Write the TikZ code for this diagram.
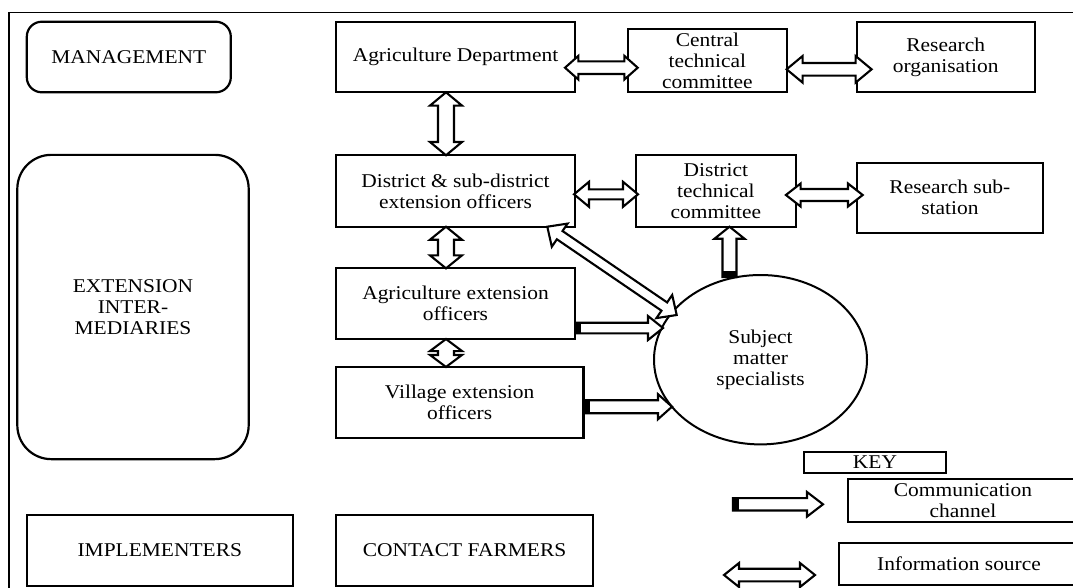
\documentclass[tikz,border=0pt]{standalone}
\usepackage{fontspec}
\setmainfont{Liberation Serif}[FakeStretch=1.1]
\usetikzlibrary{calc,shapes.geometric}

% Hollow block arrow with a head at both ends.
% #1 start, #2 end, #3 shaft half width, #4 head half width, #5 head length
\newcommand{\infoarrow}[5]{%
  \draw[arrowline] (#1)
    -- ($(#1)!#5!(#2)!#4!90:(#2)$) -- ($(#1)!#5!(#2)!#3!90:(#2)$)
    -- ($(#2)!#5!(#1)!#3!-90:(#1)$) -- ($(#2)!#5!(#1)!#4!-90:(#1)$)
    -- (#2)
    -- ($(#2)!#5!(#1)!#4!90:(#1)$) -- ($(#2)!#5!(#1)!#3!90:(#1)$)
    -- ($(#1)!#5!(#2)!#3!-90:(#2)$) -- ($(#1)!#5!(#2)!#4!-90:(#2)$)
    -- cycle;}

% Hollow block arrow with one head and a solid black tail.
\newcommand{\commarrow}[5]{%
  \draw[arrowline] ($(#1)!#3!90:(#2)$)
    -- ($(#2)!#5!(#1)!#3!-90:(#1)$) -- ($(#2)!#5!(#1)!#4!-90:(#1)$)
    -- (#2)
    -- ($(#2)!#5!(#1)!#4!90:(#1)$) -- ($(#2)!#5!(#1)!#3!90:(#1)$)
    -- ($(#1)!#3!-90:(#2)$) -- cycle;
  \fill ($(#1)!#3!90:(#2)$) -- ($(#1)!6pt!(#2)!#3!90:(#2)$)
    -- ($(#1)!6pt!(#2)!#3!-90:(#2)$) -- ($(#1)!#3!-90:(#2)$) -- cycle;}

\begin{document}
\begin{tikzpicture}[x=1pt, y=-1pt,
  every node/.style={font=\fontsize{19.5}{21}\selectfont},
  blk/.style={draw, line width=2.2pt, align=center, inner sep=0pt, outer sep=0pt},
  rblk/.style={blk, rounded corners=#1},
  oval/.style={draw, ellipse, line width=2pt, align=center, inner sep=0pt, outer sep=0pt},
  arrowline/.style={draw, fill=white, line width=2.1pt, line join=miter}]

\useasboundingbox (0,0) rectangle (1073,587);

% outer frame
\draw[line width=1.5pt] (9,12.7) rectangle (1100,620);

% level labels
\node[rblk=15pt, minimum width=204pt, minimum height=70.6pt] (mgmt) at (128.8,57) {MANAGEMENT};
\node[rblk=34pt, minimum width=231.4pt, minimum height=304.3pt] (ext) at (133,307) {EXTENSION\\INTER-\\MEDIARIES};
\node[blk, minimum width=265.8pt, minimum height=70.7pt] (impl) at (159.8,550.3) {IMPLEMENTERS};

% organisation
\node[blk, minimum width=239.6pt, minimum height=70.6pt] (agdept) at (455.5,57) {Agriculture Department};
\node[blk, minimum width=159.4pt, minimum height=63.3pt] (ctc) at (707.4,60.7) {Central\\technical\\committee};
\node[blk, minimum width=177.8pt, minimum height=70.3pt] (ro) at (945.7,57.2) {Research\\organisation};
\node[blk, minimum width=239.6pt, minimum height=71.4pt] (dsd) at (455.5,191) {District \& sub-district\\extension officers};
\node[blk, minimum width=160pt, minimum height=71.4pt] (dtc) at (715.9,191) {District\\technical\\committee};
\node[blk, minimum width=186.2pt, minimum height=70pt] (rss) at (949.9,197.7) {Research sub-\\station};
\node[blk, minimum width=239.6pt, minimum height=70.7pt] (aeo) at (455.5,303.7) {Agriculture extension\\officers};
\node[blk, minimum width=247.8pt, minimum height=70.7pt] (veo) at (459.6,402.3) {Village extension\\officers};
\node[oval, minimum width=213pt, minimum height=169.4pt] (sms) at (760.5,359.7) {Subject\\matter\\specialists};
\node[blk, minimum width=257.7pt, minimum height=70.7pt] (cf) at (464.5,550.3) {CONTACT FARMERS};

% key
\node[blk, line width=1.8pt, minimum width=142.4pt, minimum height=21.6pt] (key) at (875,462.5) {KEY};
\node[blk, minimum width=230.8pt, minimum height=43pt] (cc) at (963,500.8) {Communication\\channel};
\node[blk, minimum width=240pt, minimum height=41.7pt] (is) at (959,564.2) {Information source};

% arrow end points
\coordinate (a1s) at ($(agdept.east)+(-10.3,10.7)$);
\coordinate (a1e) at ($(ctc.west)+(10,7)$);
\coordinate (a2s) at ($(ctc.east)+(-0.5,8.6)$);
\coordinate (a2e) at ($(ro.west)+(14.8,12.1)$);
\coordinate (a3s) at ($(agdept.south)+(-9.5,0)$);
\coordinate (a3e) at ($(dsd.north)+(-9.5,0)$);
\coordinate (a4s) at ($(dsd.south)+(-9.5,0)$);
\coordinate (a4e) at ($(aeo.north)+(-9.5,0)$);
\coordinate (a5s) at ($(aeo.south)+(-9.5,0)$);
\coordinate (a5e) at ($(veo.north)+(-13.6,0)$);
\coordinate (a6s) at ($(dsd.east)+(-1.3,3.3)$);
\coordinate (a6e) at ($(dtc.west)+(2.1,3.3)$);
\coordinate (a7s) at ($(dtc.east)+(-10,4)$);
\coordinate (a7e) at ($(rss.west)+(5.9,-2.7)$);
\coordinate (a8s) at ($(dsd.south east)+(-28,0)$);
\coordinate (a8e) at ($(sms.center)+(-83.8,-44.7)$);
\coordinate (c1s) at ($(aeo.east)+(0,24.3)$);
\coordinate (c1e) at ($(sms.center)+(-97.5,-31.7)$);
\coordinate (c2s) at ($(veo.east)+(0,4.4)$);
\coordinate (c2e) at ($(sms.center)+(-88.5,47)$);
\coordinate (c3s) at ($(sms.center)+(-31,-82.7)$);
\coordinate (c3e) at ($(dtc.south)+(13.6,0)$);
\coordinate (kc1) at (733,504.3);
\coordinate (kc2) at (823,504.3);
\coordinate (ki1) at (724,575);
\coordinate (ki2) at (815,575);

% information sources
\infoarrow{a1s}{a1e}{6.3pt}{11.8pt}{13.3pt}
\infoarrow{a2s}{a2e}{6.3pt}{13.3pt}{16pt}
\infoarrow{a3s}{a3e}{8pt}{16pt}{13.3pt}
\infoarrow{a4s}{a4e}{8pt}{16pt}{13pt}
\infoarrow{a5s}{a5e}{8pt}{16pt}{12pt}
\infoarrow{a6s}{a6e}{5pt}{12.5pt}{15pt}
\infoarrow{a7s}{a7e}{6pt}{11.5pt}{14.7pt}
\infoarrow{a8s}{a8e}{5pt}{14pt}{15pt}

% communication channels
\commarrow{c1s}{c1e}{5.3pt}{12pt}{15pt}
\commarrow{c2s}{c2e}{6.5pt}{12.5pt}{14pt}
\commarrow{c3s}{c3e}{7pt}{15pt}{12pt}

% key symbols
\commarrow{kc1}{kc2}{6.2pt}{12.3pt}{16pt}
\infoarrow{ki1}{ki2}{6.3pt}{12pt}{15pt}

\end{tikzpicture}
\end{document}
